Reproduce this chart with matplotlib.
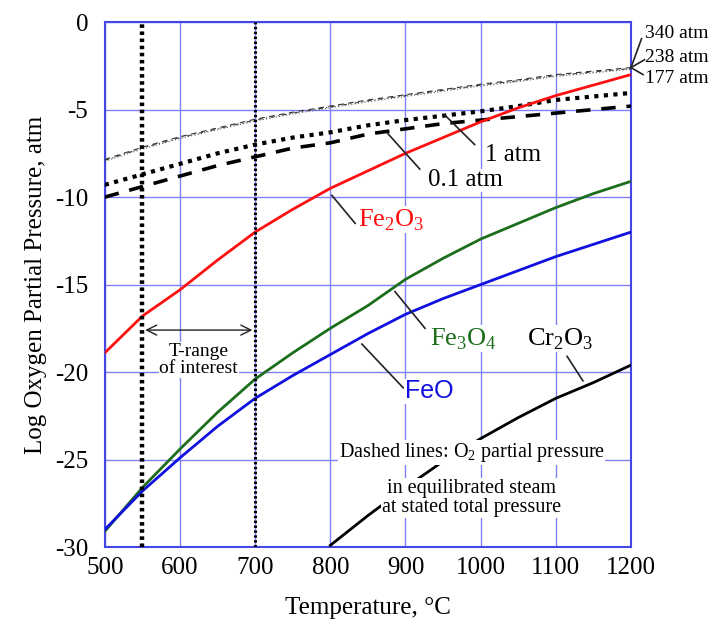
import matplotlib
matplotlib.use("Agg")
import matplotlib.pyplot as plt

plt.rcParams['font.family'] = ['Liberation Serif', 'DejaVu Serif']
plt.rcParams['axes.unicode_minus'] = False
plt.rcParams['mathtext.fontset'] = 'custom'
plt.rcParams['mathtext.rm'] = 'Liberation Serif'

T = [500, 550, 600, 650, 700, 750, 800, 850, 900, 950, 1000, 1050, 1100, 1150, 1200]
fe2o3 = [-18.9, -16.8, -15.3, -13.6, -12.0, -10.7, -9.5, -8.5, -7.5, -6.6, -5.7, -4.9, -4.2, -3.6, -3.0]
fe3o4 = [-29.1, -26.6, -24.4, -22.3, -20.4, -18.9, -17.5, -16.2, -14.7, -13.5, -12.4, -11.5, -10.6, -9.8, -9.1]
feo = [-29.0, -26.8, -24.9, -23.1, -21.5, -20.2, -19.0, -17.8, -16.7, -15.8, -15.0, -14.2, -13.4, -12.7, -12.0]
T_cr = [800, 850, 900, 950, 1000, 1050, 1100, 1150, 1200]
cr2o3 = [-29.9, -28.2, -26.6, -25.1, -23.8, -22.6, -21.5, -20.6, -19.6]
steam_1 = [-9.3, -8.7, -8.1, -7.5, -7.0, -6.6, -6.3, -5.9, -5.6, -5.35, -5.1, -4.8, -4.45, -4.25, -4.05]
steam_01 = [-10.0, -9.4, -8.8, -8.2, -7.7, -7.2, -6.9, -6.4, -6.1, -5.8, -5.6, -5.4, -5.2, -5.0, -4.8]
steam_340 = [-7.85, -7.15, -6.55, -6.05, -5.55, -5.15, -4.8, -4.45, -4.15, -3.85, -3.55, -3.3, -3.0, -2.8, -2.6]
steam_238 = [-7.9, -7.2, -6.6, -6.1, -5.6, -5.2, -4.85, -4.5, -4.2, -3.9, -3.6, -3.35, -3.05, -2.85, -2.65]
steam_177 = [-7.95, -7.25, -6.65, -6.15, -5.65, -5.25, -4.9, -4.55, -4.25, -3.95, -3.65, -3.4, -3.1, -2.9, -2.7]
xticks = [500, 600, 700, 800, 900, 1000, 1100, 1200]
yticks = [0, -5, -10, -15, -20, -25, -30]
t_range = [550, 700]

fig = plt.figure(figsize=(7.13, 6.31), dpi=100)
ax = fig.add_axes([0.147, 0.133, 0.738, 0.832])
ax.set_xlim(500, 1200)
ax.set_ylim(-30, 0)
ax.set_xticks(xticks)
ax.set_yticks(yticks)
ax.set_xticklabels([str(v) for v in xticks], fontsize=18)
ax.set_yticklabels([str(v) for v in yticks], fontsize=18)
ax.tick_params(length=0, pad=7)
ax.tick_params(axis='y', pad=12)
ax.grid(True, color='#8080ff', lw=1.0, zorder=0)
for s in ax.spines.values():
    s.set_color('#4646e6')
    s.set_linewidth(1.5)

ax.plot(T, steam_177, color='#555555', lw=0.8, ls=(0, (1, 2)), zorder=3)
ax.plot(T, steam_238, color='#444444', lw=0.8, ls=(0, (4, 3, 1, 3)), zorder=3)
ax.plot(T, steam_340, color='#333333', lw=0.8, ls=(0, (5, 4)), zorder=3)
ax.plot(T, steam_1, color='black', lw=3.0, ls=(0, (1, 1.3)), zorder=3)
ax.plot(T, steam_01, color='black', lw=2.6, ls=(0, (4, 3)), zorder=3)
ax.plot(T, fe2o3, color='#ff1010', lw=2.0, zorder=4)
ax.plot(T, fe3o4, color='#1c6e1c', lw=2.0, zorder=4)
ax.plot(T, feo, color='#1010e0', lw=2.0, zorder=4)
ax.plot(T_cr, cr2o3, color='black', lw=2.0, zorder=4)

ax.axvline(t_range[0], color='black', lw=3.2, ls=(0, (0.8, 0.8)), zorder=5)
ax.axvline(t_range[1], color='black', lw=2.2, ls=(0, (0.8, 0.8)), zorder=5)

ax.annotate('', xy=(t_range[0], -17.6), xytext=(t_range[1], -17.6),
            arrowprops=dict(arrowstyle='<->', color='#222222', lw=1.0, mutation_scale=18), zorder=6)
ax.text(sum(t_range) / 2, -19.3, 'T-range\nof interest', ha='center', va='center', fontsize=14,
        linespacing=1.0, bbox=dict(facecolor='white', edgecolor='none', pad=0.5), zorder=6)

wb = dict(facecolor='white', edgecolor='none', pad=0.5)

def leader(x0, y0, x1, y1):
    ax.plot([x0, x1], [y0, y1], color='#222222', lw=1.2, zorder=6, clip_on=False)

leader(952, -5.3, 992, -7.0)
ax.text(1006, -7.6, '1 atm', ha='left', va='center', fontsize=18, bbox=wb, zorder=6)
leader(875, -6.3, 919, -8.4)
ax.text(930, -9.05, '0.1 atm', ha='left', va='center', fontsize=18, bbox=wb, zorder=6)
leader(802, -9.9, 833, -11.5)
ax.text(837, -11.3, r'Fe$_\mathregular{2}$O$_\mathregular{3}$', color='#ff1010', ha='left', va='center',
        fontsize=19, bbox=wb, zorder=6)
leader(886, -15.4, 926, -17.5)
ax.text(932, -18.1, r'Fe$_\mathregular{3}$O$_\mathregular{4}$', color='#1c6e1c', ha='left', va='center',
        fontsize=19, bbox=wb, zorder=6)
leader(842, -18.4, 897, -20.9)
ax.text(899, -21.1, 'FeO', color='#1010e0', ha='left', va='center', fontsize=18,
        family=['Liberation Sans', 'DejaVu Sans'], bbox=wb, zorder=6)
leader(1115, -19.1, 1136, -20.5)
ax.text(1061, -18.1, r'Cr$_\mathregular{2}$O$_\mathregular{3}$', color='black', ha='left', va='center',
        fontsize=19, bbox=wb, zorder=6)

ax.text(988, -24.6, r'Dashed lines: O$_\mathregular{2}$ partial pressure', ha='center', va='center',
        fontsize=14.5, bbox=wb, zorder=6)
ax.text(988, -27.2, 'in equilibrated steam\nat stated total pressure', ha='center', va='center',
        fontsize=14.5, linespacing=1.0, bbox=wb, zorder=6)

leader(1200, -2.6, 1214, -0.95)
leader(1200, -2.6, 1218, -2.15)
leader(1200, -2.6, 1216, -3.0)
ax.text(1219, -0.65, '340 atm', ha='left', va='center', fontsize=14, clip_on=False)
ax.text(1219, -2.0, '238 atm', ha='left', va='center', fontsize=14, clip_on=False)
ax.text(1219, -3.2, '177 atm', ha='left', va='center', fontsize=14, clip_on=False)

ax.set_xlabel('Temperature, °C', fontsize=18, labelpad=13)
ax.set_ylabel('Log Oxygen Partial Pressure, atm', fontsize=18, labelpad=6)

fig.savefig('out.png', dpi=100)
